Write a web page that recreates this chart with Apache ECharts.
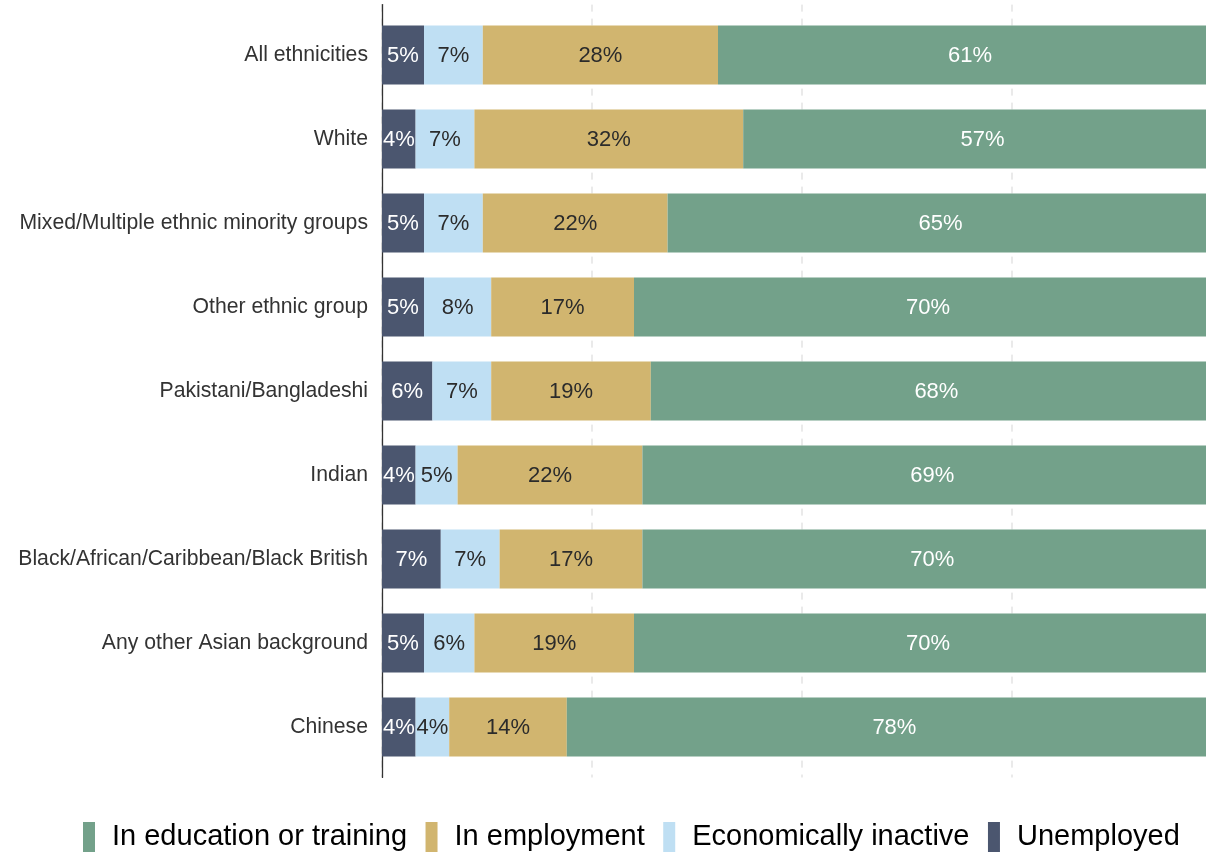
<!DOCTYPE html>
<html>
<head>
<meta charset="utf-8">
<title>Activity of young people by ethnicity</title>
<script src="https://cdn.jsdelivr.net/npm/echarts@6/dist/echarts.min.js"></script>
<style>
  html, body { margin: 0; padding: 0; background: #ffffff; }
  #chart { width: 1206px; height: 853px; }
</style>
</head>
<body>
<div id="chart"></div>
<script>
// Ethnic groups, top to bottom
const categories = [
  'All ethnicities',
  'White',
  'Mixed/Multiple ethnic minority groups',
  'Other ethnic group',
  'Pakistani/Bangladeshi',
  'Indian',
  'Black/African/Caribbean/Black British',
  'Any other Asian background',
  'Chinese'
];

// Share of young people in each activity (%)
const unemployed = [5, 4, 5, 5, 6, 4, 7, 5, 4];
const inactive   = [7, 7, 7, 8, 7, 5, 7, 6, 4];
const employment = [28, 32, 22, 17, 19, 22, 17, 19, 14];
const education  = [61, 57, 65, 70, 68, 69, 70, 70, 78];

const seriesNames = {
  education: 'In education or training',
  employment: 'In employment',
  inactive: 'Economically inactive',
  unemployed: 'Unemployed'
};

const colors = {
  unemployed: '#4b566f',
  inactive: '#bfdff3',
  employment: '#d1b56f',
  education: '#73a18a'
};

const FONT = '"Liberation Sans", Arial, Helvetica, sans-serif';

const chart = echarts.init(document.getElementById('chart'), null, { renderer: 'canvas' });

function barSeries(name, data, color, labelColor) {
  return {
    name: name,
    type: 'bar',
    stack: 'total',
    xAxisIndex: 0,
    yAxisIndex: 0,
    barWidth: 59,
    data: data,
    itemStyle: { color: color },
    label: {
      show: true,
      position: 'inside',
      offset: [0, 1],
      formatter: '{c}%',
      color: labelColor,
      fontFamily: FONT,
      fontSize: 22
    },
    emphasis: { disabled: true }
  };
}

const option = {
  animation: false,
  backgroundColor: '#ffffff',
  grid: [
    // bars; the panel runs past the right edge of the canvas
    { left: 382, width: 840, top: 13, height: 756, outerBoundsMode: 'none' },
    // panel frame: gridlines and vertical axis line
    { left: 382, width: 840, top: 4.6, height: 772.8, outerBoundsMode: 'none' }
  ],
  xAxis: [
    {
      gridIndex: 0, type: 'value', min: 0, max: 100,
      show: false
    },
    {
      gridIndex: 1, type: 'value', min: 0, max: 100, interval: 25,
      axisLine: { show: false }, axisTick: { show: false }, axisLabel: { show: false },
      splitLine: {
        show: true,
        lineStyle: { color: '#e3e3e3', width: 1.5, type: [7, 7] }
      }
    }
  ],
  yAxis: [
    {
      gridIndex: 0, type: 'category', inverse: true, data: categories,
      axisLine: { show: false }, axisTick: { show: false },
      axisLabel: {
        margin: 14, color: '#333333', fontFamily: FONT, fontSize: 21.2,
        padding: [4, 0, 0, 0]
      }
    },
    {
      gridIndex: 1, type: 'value', min: 0, max: 1,
      axisLine: { show: true, onZero: false, lineStyle: { color: '#333333', width: 1.3 } },
      axisTick: { show: false }, axisLabel: { show: false }, splitLine: { show: false }
    }
  ],
  legend: {
    left: 83,
    top: 822,
    padding: 0,
    icon: 'rect',
    itemWidth: 12,
    itemHeight: 30,
    itemGap: 18.5,
    data: [seriesNames.education, seriesNames.employment, seriesNames.inactive, seriesNames.unemployed],
    textStyle: {
      color: '#000000', fontFamily: FONT, fontSize: 29,
      padding: [10, 0, 0, 12]
    }
  },
  series: [
    barSeries(seriesNames.unemployed, unemployed, colors.unemployed, '#ffffff'),
    barSeries(seriesNames.inactive, inactive, colors.inactive, '#2b2b2b'),
    barSeries(seriesNames.employment, employment, colors.employment, '#2b2b2b'),
    barSeries(seriesNames.education, education, colors.education, '#ffffff')
  ]
};

chart.setOption(option);
</script>
</body>
</html>
